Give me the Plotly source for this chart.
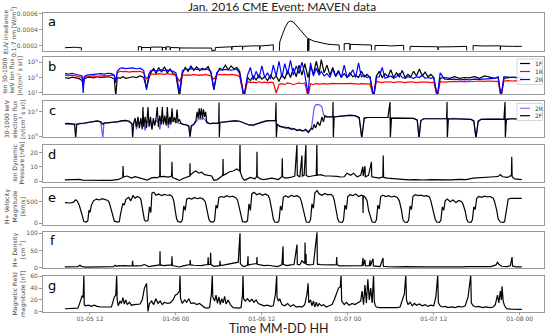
import numpy as np
import pandas as pd
import plotly.graph_objects as go
from plotly.subplots import make_subplots

BASE = pd.Timestamp("2016-01-05 00:00")

# ---------------- data (hours since 2016-01-05 00:00) ----------------
# a: EUV irradiance 0.1-7 nm [W/m2]; None = data gap
euv_points = [
    (8.5, 1.78e-4), (9.0, 1.80e-4), (9.4, 1.86e-4), (9.9, 1.84e-4), (10.3, 1.79e-4), (10.8, 1.78e-4), (10.8, 1.42e-4), (10.9, None),
    (18.75, 1.42e-4), (18.75, 1.92e-4), (19.2, 1.90e-4), (19.2, 1.45e-4), (19.25, 1.80e-4), (20.45, 1.80e-4), (20.45, 1.45e-4),
    (20.5, 1.86e-4), (22.1, 1.86e-4), (22.1, 1.45e-4), (22.15, 1.82e-4), (22.6, 1.82e-4), (22.6, 1.50e-4), (22.65, 1.90e-4),
    (23.2, 1.88e-4), (23.2, 1.50e-4), (23.25, 1.80e-4), (24.5, 1.78e-4), (24.5, 1.45e-4), (24.55, 1.75e-4), (27.0, 1.74e-4),
    (29.0, 1.74e-4), (29.0, 1.45e-4), (29.5, 1.45e-4), (29.5, 1.80e-4), (30.5, 1.85e-4), (31.8, 1.90e-4), (31.8, 1.50e-4),
    (31.85, 1.92e-4), (33.3, 1.98e-4), (33.3, 1.50e-4), (33.35, 1.95e-4), (34.5, 2.00e-4), (35.7, 2.02e-4), (35.7, 1.50e-4),
    (35.75, 2.00e-4), (37.0, 2.08e-4), (37.6, 2.15e-4), (37.6, 1.40e-4), (38.0, None),
    (38.45, 1.40e-4), (38.5, 2.50e-4), (38.9, 3.50e-4), (39.3, 4.40e-4), (39.7, 5.00e-4), (40.0, 5.12e-4), (40.4, 5.00e-4),
    (40.9, 4.50e-4), (41.4, 4.00e-4), (42.0, 3.30e-4), (42.4, 2.95e-4), (42.4, 1.40e-4), (42.5, 2.92e-4), (42.55, 1.40e-4),
    (42.6, 2.88e-4), (43.2, 2.62e-4), (43.7, 2.50e-4), (44.5, 2.32e-4), (45.2, 2.22e-4), (46.0, 2.16e-4), (46.8, 2.12e-4),
    (46.8, 1.45e-4), (47.1, None),
    (47.5, 1.45e-4), (47.5, 2.30e-4), (48.3, 2.28e-4), (48.3, 1.50e-4), (48.35, 2.20e-4), (50.0, 2.15e-4), (51.3, 2.12e-4),
    (51.3, 1.45e-4), (51.5, None),
    (51.8, 1.45e-4), (51.8, 2.06e-4), (53.5, 2.05e-4), (54.0, 2.00e-4), (55.8, 2.08e-4), (55.8, 1.45e-4), (56.2, None),
    (56.7, 1.45e-4), (56.7, 1.95e-4), (58.5, 1.92e-4), (60.6, 1.90e-4), (60.6, 1.50e-4), (60.65, 1.88e-4), (62.5, 1.90e-4),
    (64.6, 1.95e-4), (64.6, 1.45e-4), (65.0, None),
    (65.5, 1.45e-4), (65.5, 2.05e-4), (67.0, 2.00e-4), (69.3, 2.02e-4), (69.3, 1.50e-4), (69.35, 1.98e-4), (71.0, 1.95e-4),
    (72.3, 1.95e-4),
]

# b: ion flux, log10 values: (hour, 1F, 1R, 2R)
ion_flux_log10 = [
    (8.5, 3.0, 3.3, 3.5), (9.0, 2.9, 3.25, 3.45), (9.5, 3.05, 3.3, 3.55), (10.0, 2.95, 3.2, 3.4), (10.5, 2.85, 3.15, 3.35),
    (10.9, 2.6, 3.0, 3.2), (11.05, 2.0, 2.6, 1.0), (11.2, 2.8, 3.0, 3.1), (11.6, 3.0, 3.1, 3.3), (12.0, 3.05, 3.15, 3.35),
    (12.5, 2.95, 3.2, 3.4), (13.0, 3.1, 3.15, 3.45), (13.5, 3.0, 3.2, 3.5), (14.0, 3.05, 3.25, 3.45), (14.5, 3.1, 3.2, 3.55),
    (15.0, 3.0, 3.3, 3.5), (15.4, 2.8, 3.2, 3.3), (15.6, 0.5, 2.6, 2.3), (15.8, 3.0, 3.6, 3.8), (16.2, 2.9, 3.8, 4.2),
    (16.6, 3.1, 3.75, 4.25), (17.0, 2.9, 3.8, 4.15), (17.5, 3.0, 3.7, 4.2), (18.0, 3.1, 3.8, 4.25), (18.5, 3.0, 3.75, 4.1),
    (19.0, 3.2, 3.8, 4.2), (19.5, 3.0, 3.6, 3.9), (19.9, 1.6, 2.8, 1.4), (20.2, 2.8, 3.2, 3.4), (20.5, 3.6, 3.4, 3.9),
    (20.9, 4.2, 3.45, 3.95), (21.2, 3.5, 3.4, 3.85), (21.6, 4.3, 3.5, 3.9), (22.0, 3.7, 3.45, 4.0), (22.4, 4.4, 3.4, 3.9),
    (22.8, 3.6, 3.5, 3.95), (23.2, 4.1, 3.45, 3.9), (23.6, 3.5, 3.4, 3.8), (24.0, 3.3, 3.3, 3.6), (24.5, 0.5, 2.5, 1.1),
    (24.9, 3.5, 3.3, 3.9), (25.3, 4.3, 3.3, 4.1), (25.7, 3.8, 3.35, 4.05), (26.1, 4.5, 3.3, 4.15), (26.5, 3.9, 3.4, 4.1),
    (26.9, 4.4, 3.3, 4.05), (27.3, 3.9, 3.35, 4.1), (27.7, 4.2, 3.3, 4.0), (28.1, 4.0, 3.4, 4.1), (28.5, 4.4, 3.3, 4.05),
    (28.9, 3.6, 3.2, 3.7), (29.3, 1.4, 2.8, 1.5), (29.7, 3.4, 3.3, 3.6), (30.1, 4.2, 3.4, 4.0), (30.5, 4.0, 3.35, 3.95),
    (30.9, 4.6, 3.4, 4.05), (31.3, 4.0, 3.35, 4.0), (31.7, 4.5, 3.4, 3.95), (32.1, 4.1, 3.35, 4.0), (32.5, 4.3, 3.3, 4.1),
    (32.9, 3.8, 3.1, 3.5), (33.5, 0.5, 0.5, 0.5), (34.0, 3.0, 2.5, 3.3), (34.4, 2.6, 2.35, 4.3), (34.8, 3.2, 2.4, 2.7),
    (35.2, 2.7, 2.3, 3.8), (35.6, 3.3, 2.45, 2.9), (36.0, 2.8, 2.35, 4.5), (36.4, 3.1, 2.4, 3.0), (36.8, 2.6, 2.3, 3.6),
    (37.2, 3.3, 2.4, 2.8), (37.6, 2.8, 2.35, 4.6), (38.0, 3.2, 1.0, 3.2), (38.4, 2.5, 2.1, 5.1), (38.8, 3.4, 2.2, 3.0),
    (39.2, 2.8, 2.1, 4.8), (39.6, 3.9, 2.3, 3.4), (40.0, 3.0, 2.2, 5.2), (40.4, 4.2, 2.1, 3.3), (40.8, 3.1, 2.2, 4.5),
    (41.2, 4.6, 2.3, 3.5), (41.6, 3.3, 2.2, 5.0), (42.0, 4.8, 2.3, 3.4), (42.45, 3.0, 0.5, 0.8), (42.8, 4.5, 2.2, 4.9),
    (43.2, 3.4, 2.1, 3.2), (43.6, 5.1, 2.2, 4.2), (44.0, 3.5, 2.15, 3.3), (44.3, 5.3, 2.2, 3.8), (44.7, 3.6, 2.2, 3.2),
    (45.1, 4.6, 2.15, 3.5), (45.5, 3.3, 2.2, 3.0), (45.9, 4.3, 2.25, 4.1), (46.3, 3.2, 2.2, 3.1), (46.7, 3.9, 2.2, 3.7),
    (47.1, 3.0, 2.15, 3.0), (47.5, 3.5, 2.2, 4.6), (47.9, 3.0, 2.2, 3.0), (48.3, 3.6, 2.25, 3.3), (48.7, 3.1, 2.2, 4.0),
    (49.1, 3.3, 2.2, 3.0), (49.5, 3.0, 2.15, 4.9), (49.9, 3.8, 2.2, 3.1), (50.3, 3.1, 2.2, 3.3), (50.7, 3.4, 2.2, 3.0),
    (51.1, 3.0, 2.15, 3.1), (51.6, 0.5, 0.5, 0.5), (52.0, 3.2, 2.5, 3.0), (52.4, 3.8, 2.4, 3.1), (52.8, 3.0, 2.35, 4.3),
    (53.2, 3.5, 2.45, 2.9), (53.6, 3.1, 2.4, 3.0), (54.0, 4.0, 2.45, 3.2), (54.4, 3.0, 2.35, 2.9), (54.8, 3.6, 2.4, 3.1),
    (55.2, 3.1, 2.45, 3.5), (55.6, 3.9, 2.4, 3.0), (56.0, 3.0, 2.35, 2.9), (56.4, 3.4, 2.4, 3.1), (56.8, 3.1, 2.45, 3.0),
    (57.2, 3.8, 2.4, 2.9), (57.6, 3.2, 2.35, 3.1), (58.0, 4.1, 2.4, 3.0), (58.4, 3.2, 2.4, 3.3), (58.8, 3.7, 2.45, 2.9),
    (59.2, 3.1, 2.4, 3.0), (59.6, 3.4, 2.35, 2.9), (60.0, 3.0, 2.4, 3.0), (60.5, 0.5, 0.5, 0.5), (60.9, 2.9, 2.45, 3.6),
    (61.5, 3.0, 2.4, 2.8), (62.2, 2.9, 2.45, 2.75), (62.9, 3.1, 2.5, 2.8), (63.6, 2.9, 2.45, 2.7), (64.3, 3.0, 2.5, 2.75),
    (65.0, 2.95, 2.45, 2.7), (65.7, 3.1, 2.5, 2.8), (66.4, 2.9, 2.55, 2.75), (67.1, 3.2, 2.5, 2.8), (67.8, 3.0, 2.55, 2.85),
    (68.5, 2.9, 2.5, 2.9), (69.0, 3.0, 2.5, 3.1), (69.4, 0.5, 0.5, 0.5), (69.8, 2.9, 2.55, 3.1), (70.4, 2.95, 2.6, 3.05),
    (71.0, 3.05, 2.55, 3.0), (71.7, 2.95, 2.6, 3.05), (72.3, 3.0, 2.55, 3.0),
]

# c: electron flux, log10 values: (hour, 2R, 2F)
electron_flux_log10 = [
    (8.5, 6.05, 6.05), (9.0, 6.0, 6.08), (9.5, 6.05, 6.02), (9.85, 6.0, 6.0), (10.0, 6.0, 4.9), (10.15, 6.0, 6.0),
    (10.6, 6.1, 6.05), (11.2, 6.05, 6.1), (11.8, 6.15, 6.2), (12.4, 6.2, 6.25), (13.0, 6.25, 6.28), (13.5, 6.2, 6.2),
    (13.8, 4.9, 6.0), (13.95, 6.1, 6.1), (14.5, 6.1, 6.12), (15.2, 6.15, 6.15), (15.9, 6.2, 6.22), (16.5, 6.25, 6.3),
    (17.0, 6.3, 6.32), (17.5, 6.2, 6.25), (17.85, 6.05, 6.05), (17.96, 5.9, 4.9), (18.1, 6.1, 6.1), (18.3, 6.2, 6.5),
    (18.5, 5.6, 5.8), (18.7, 6.2, 6.6), (18.9, 6.1, 5.7), (19.1, 6.2, 6.5), (19.3, 6.0, 5.6), (19.4, 6.2, 7.4),
    (19.5, 6.1, 5.8), (19.7, 5.5, 6.6), (19.9, 6.2, 5.7), (20.1, 6.2, 7.4), (20.25, 6.1, 5.8), (20.45, 6.2, 6.6),
    (20.65, 5.6, 5.6), (20.85, 6.2, 6.5), (21.05, 6.1, 5.9), (21.25, 6.3, 6.6), (21.4, 6.2, 7.4), (21.55, 6.2, 5.8),
    (21.75, 5.6, 6.7), (21.95, 6.3, 6.0), (22.1, 6.3, 7.4), (22.25, 6.2, 6.0), (22.45, 6.3, 6.7), (22.65, 6.2, 5.9),
    (22.8, 6.3, 7.4), (22.95, 5.7, 6.0), (23.15, 6.3, 6.6), (23.3, 6.2, 6.0), (23.45, 6.3, 7.3), (23.6, 6.25, 6.2),
    (23.8, 6.2, 6.55), (24.0, 6.2, 6.1), (24.15, 6.2, 7.2), (24.3, 6.1, 6.2), (24.5, 6.1, 6.4), (24.7, 6.05, 6.1),
    (25.0, 6.0, 6.0), (25.4, 6.0, 5.95), (25.8, 5.9, 5.85), (25.97, 5.0, 5.0), (26.15, 5.8, 5.9), (26.5, 6.0, 6.0),
    (26.8, 6.2, 6.3), (26.95, 6.3, 7.0), (27.1, 6.4, 6.5), (27.25, 6.5, 7.3), (27.4, 6.4, 6.5), (27.55, 6.5, 7.3),
    (27.7, 6.4, 6.5), (27.85, 6.5, 7.2), (28.0, 6.4, 6.6), (28.15, 6.3, 7.0), (28.3, 6.1, 6.2), (28.7, 6.05, 6.05),
    (29.2, 6.1, 6.1), (29.7, 6.05, 6.1), (29.98, 6.1, 6.1), (30.02, 6.1, 7.75), (30.06, 6.1, 4.9), (30.15, 6.15, 6.15),
    (30.8, 6.2, 6.2), (31.5, 6.25, 6.25), (32.2, 6.3, 6.28), (32.9, 6.25, 6.25), (33.6, 6.1, 6.1), (34.2, 5.95, 5.95),
    (34.8, 5.9, 5.95), (35.3, 6.05, 6.05), (36.0, 6.2, 6.2), (36.7, 6.3, 6.28), (37.4, 6.3, 6.3), (37.9, 6.3, 6.3),
    (37.98, 6.3, 7.75), (38.02, 6.0, 4.9), (38.15, 6.0, 6.0), (38.5, 5.8, 5.85), (38.9, 5.75, 5.8), (39.3, 5.8, 5.7),
    (39.7, 5.65, 5.75), (40.1, 5.7, 5.6), (40.5, 5.6, 5.65), (40.9, 5.55, 5.5), (41.3, 5.6, 5.55), (41.7, 5.5, 5.45),
    (42.1, 5.5, 5.6), (42.5, 5.45, 5.35), (42.9, 5.6, 5.7), (43.1, 6.3, 5.6), (43.3, 7.3, 6.0), (43.5, 7.55, 5.7),
    (43.8, 7.6, 6.2), (44.1, 7.55, 5.9), (44.4, 7.4, 6.6), (44.6, 6.8, 6.2), (44.8, 6.6, 6.7), (45.1, 6.6, 6.6),
    (45.5, 6.6, 6.6), (45.9, 6.6, 6.6), (45.94, 6.6, 7.8), (45.98, 6.6, 4.9), (46.1, 6.6, 6.6), (46.8, 6.65, 6.65),
    (47.6, 6.7, 6.7), (48.3, 6.75, 6.72), (49.0, 6.7, 6.7), (49.6, 6.5, 6.55), (49.95, 4.9, 4.9), (50.3, 6.5, 6.5),
    (50.8, 6.55, 6.55), (51.5, 6.56, 6.56), (52.2, 6.55, 6.55), (52.9, 6.55, 6.55), (53.6, 6.55, 6.55), (53.9, 6.55, 7.8),
    (53.94, 6.4, 4.9), (54.1, 6.5, 6.5), (54.8, 6.5, 6.5), (55.6, 6.5, 6.52), (56.4, 6.5, 6.5), (57.2, 6.48, 6.48),
    (57.7, 6.3, 6.35), (57.95, 4.9, 4.9), (58.2, 6.3, 6.3), (58.6, 6.45, 6.45), (59.4, 6.45, 6.45), (60.2, 6.45, 6.45),
    (61.0, 6.45, 6.45), (61.8, 6.45, 6.45), (61.86, 6.45, 7.8), (61.9, 6.3, 4.9), (62.05, 6.45, 6.45), (62.8, 6.48, 6.45),
    (63.6, 6.45, 6.45), (64.4, 6.45, 6.45), (65.2, 6.4, 6.4), (65.6, 6.2, 6.3), (65.9, 4.9, 4.9), (66.2, 6.3, 6.2),
    (66.6, 6.4, 6.4), (67.4, 6.4, 6.42), (68.2, 6.42, 6.42), (69.0, 6.45, 6.42), (69.8, 6.4, 6.4), (69.96, 6.4, 7.8),
    (70.0, 6.3, 4.9), (70.15, 6.4, 6.4), (70.8, 6.45, 6.45), (71.6, 6.4, 6.45),
]

# d: ion dynamic pressure [nPa]
pressure_points = [
    (8.5, 0.8), (9.5, 1.0), (10.5, 1.1), (11.0, 0.6), (12.0, 0.4), (13.0, 0.3), (14.0, 0.4), (15.0, 0.5), (16.0, 1.2),
    (16.58, 2.5), (16.62, 10.5), (16.68, 2.8), (17.2, 3.5), (17.8, 2.0), (18.3, 3.0), (19.0, 2.2), (19.6, 1.5), (20.0, 0.6),
    (20.5, 2.0), (21.0, 2.6), (21.5, 2.3), (21.74, 3.5), (21.78, 25.5), (21.82, 3.0), (22.3, 3.2), (22.9, 2.8), (23.4, 3.5),
    (23.45, 13.5), (23.5, 2.5), (24.0, 1.5), (24.5, 0.4), (25.0, 1.8), (25.5, 3.0), (25.94, 3.5), (25.97, 12.5), (26.0, 4.0),
    (26.4, 6.0), (26.8, 7.0), (27.2, 5.5), (27.6, 6.2), (28.0, 4.5), (28.5, 4.0), (29.0, 3.5), (29.3, 0.5), (29.8, 1.0),
    (30.3, 3.0), (30.55, 4.0), (30.58, 15.5), (30.62, 4.0), (31.0, 5.0), (31.5, 6.5), (32.0, 7.0), (32.5, 8.5), (32.9, 7.0),
    (32.95, 25.5), (33.0, 6.0), (33.3, 2.0), (33.6, 0.5), (34.0, 1.5), (34.4, 2.5), (35.0, 1.5), (35.28, 3.0), (35.32, 20.5),
    (35.36, 3.0), (35.8, 1.5), (36.3, 1.0), (36.8, 1.5), (37.4, 2.0), (37.9, 1.5), (38.3, 1.0), (38.8, 3.0), (38.85, 16.0),
    (38.9, 3.0), (39.3, 2.0), (40.0, 2.5), (40.6, 3.5), (40.9, 25.5), (40.95, 4.0), (41.3, 3.0), (41.6, 18.0), (41.65, 3.5),
    (41.9, 4.0), (42.15, 25.5), (42.2, 4.0), (42.5, 3.0), (43.0, 3.5), (43.6, 4.0), (43.68, 25.5), (43.73, 4.0), (44.2, 4.5),
    (44.8, 3.5), (45.5, 3.5), (46.0, 3.5), (46.5, 3.2), (47.0, 2.8), (47.5, 3.0), (47.9, 5.5), (48.4, 4.0), (48.8, 5.5),
    (49.3, 3.0), (49.8, 4.0), (50.1, 10.0), (50.15, 3.5), (50.4, 10.5), (50.45, 3.0), (50.9, 4.0), (51.3, 13.5), (51.35, 3.0),
    (51.8, 2.5), (52.4, 2.0), (52.9, 3.0), (52.95, 18.0), (53.0, 2.5), (53.5, 2.0), (54.5, 1.5), (55.5, 1.0), (56.5, 0.8),
    (57.5, 1.0), (58.5, 0.7), (59.5, 1.0), (60.5, 0.8), (61.5, 1.0), (62.5, 0.8), (63.5, 1.2), (64.5, 1.0), (65.5, 2.0),
    (66.5, 2.5), (67.5, 2.8), (68.5, 3.0), (69.0, 3.2), (69.3, 4.5), (69.6, 3.0), (70.3, 2.5), (70.85, 4.0), (70.9, 17.0),
    (70.95, 3.0), (71.3, 1.5), (72.3, 1.0),
]

# e: H+ velocity magnitude [km/s]
velocity_points = [
    (8.5, 480), (8.9, 475), (9.3, 470), (9.7, 490), (10.0, 545), (10.2, 520),
    (10.5, 420), (10.8, 250), (11.0, 90), (11.15, 40), (11.5, 30), (11.7, 60), (11.85, 300), (12.0, 250), (12.2, 420),
    (12.5, 520), (12.9, 560), (13.3, 540), (13.7, 570), (14.1, 550), (14.5, 530),
    (14.7, 480), (15.0, 300), (15.2, 120), (15.4, 50), (15.9, 30), (16.1, 40), (16.25, 200), (16.4, 350), (16.6, 460), (16.8, 420),
    (17.0, 550), (17.4, 600), (17.7, 520), (18.0, 640), (18.3, 580), (18.6, 620), (18.9, 600),
    (19.1, 560), (19.4, 300), (19.6, 80), (19.8, 50), (20.1, 60), (20.3, 380), (20.5, 250), (20.65, 700),
    (20.9, 720), (21.2, 650), (21.6, 680), (22.0, 640), (22.4, 670), (22.8, 650), (23.2, 660), (23.5, 620),
    (23.7, 520), (23.9, 300), (24.1, 100), (24.3, 40), (24.7, 30), (24.9, 80), (25.1, 400), (25.3, 300), (25.5, 560),
    (25.8, 580), (26.2, 560), (26.6, 600), (27.0, 570), (27.4, 590), (27.8, 560),
    (28.1, 500), (28.4, 280), (28.6, 100), (28.8, 40), (29.2, 30), (29.4, 70), (29.6, 420), (29.8, 350), (30.0, 600),
    (30.3, 620), (30.7, 600), (31.1, 640), (31.5, 610), (31.9, 630), (32.3, 600),
    (32.6, 540), (32.9, 300), (33.1, 120), (33.3, 40), (33.8, 30), (34.0, 60), (34.2, 450), (34.4, 300), (34.6, 680),
    (34.9, 720), (35.3, 660), (35.7, 690), (36.1, 650), (36.5, 680), (36.9, 640),
    (37.1, 560), (37.4, 300), (37.6, 100), (37.8, 30), (38.2, 20), (38.4, 60), (38.6, 400), (38.8, 300), (39.0, 600),
    (39.3, 640), (39.7, 600), (40.1, 650), (40.5, 620), (40.9, 640), (41.3, 600),
    (41.5, 520), (41.8, 300), (42.0, 100), (42.2, 30), (42.6, 20), (42.8, 80), (43.0, 450), (43.2, 350), (43.4, 700),
    (43.7, 760), (44.0, 680), (44.4, 650), (44.8, 690), (45.2, 660), (45.6, 670), (45.9, 640),
    (46.1, 540), (46.4, 300), (46.6, 100), (46.8, 30), (47.2, 20), (47.4, 70), (47.6, 420), (47.8, 320), (48.0, 620),
    (48.3, 660), (48.7, 640), (49.1, 680), (49.5, 620), (49.9, 650), (50.1, 640), (50.13, 240), (50.16, 640), (50.4, 610),
    (50.7, 520), (50.9, 300), (51.2, 100), (51.4, 30), (51.8, 20), (52.0, 80), (52.2, 420), (52.4, 330), (52.6, 620),
    (52.9, 650), (53.3, 620), (53.7, 640), (54.1, 610), (54.5, 630), (54.9, 600),
    (55.2, 520), (55.5, 300), (55.7, 90), (55.9, 30), (56.3, 20), (56.5, 70), (56.7, 400), (56.9, 320), (57.1, 620),
    (57.4, 660), (57.8, 640), (58.2, 650), (58.6, 630), (59.0, 640), (59.4, 610),
    (59.6, 520), (59.9, 300), (60.2, 100), (60.4, 30), (60.8, 20), (61.0, 70), (61.2, 380), (61.4, 300), (61.6, 520),
    (61.9, 560), (62.3, 500), (62.7, 540), (63.1, 480), (63.5, 530), (63.9, 500),
    (64.1, 440), (64.4, 280), (64.6, 100), (64.8, 30), (65.2, 20), (65.4, 80), (65.6, 380), (65.8, 320), (66.0, 580),
    (66.3, 620), (66.7, 600), (67.1, 630), (67.5, 610), (67.9, 620), (68.3, 580),
    (68.5, 500), (68.8, 300), (69.0, 100), (69.3, 30), (69.7, 20), (69.9, 40), (70.2, 300), (70.4, 560), (70.8, 580),
    (71.4, 580), (72.0, 575), (72.3, 575),
]

# f: H+ density [cm^-3]
density_points = [
    (8.5, 2), (9.5, 2.5), (10.3, 3), (10.6, 7), (10.9, 3), (11.5, 1.5), (12.5, 2), (13.5, 1.8), (14.5, 2.2), (15.3, 3),
    (15.5, 7), (15.7, 4), (16.0, 6), (16.3, 5), (16.8, 6), (17.3, 5), (17.9, 6), (17.95, 20), (18.0, 6), (18.5, 5),
    (19.2, 6), (19.6, 9), (19.9, 7), (20.2, 3), (20.8, 5), (21.3, 6), (21.75, 8), (21.78, 48), (21.82, 8), (22.3, 6),
    (22.9, 7), (23.4, 8), (23.45, 33), (23.5, 6), (24.0, 4), (24.5, 2), (25.0, 5), (25.5, 8), (25.95, 9), (26.0, 22),
    (26.05, 8), (26.5, 7), (27.0, 6), (27.6, 6), (28.0, 8), (28.45, 9), (28.5, 30), (28.55, 9), (28.8, 10), (28.85, 43),
    (28.9, 9), (29.3, 4), (29.8, 4), (30.1, 6), (30.16, 20), (30.2, 6), (30.8, 8), (31.3, 10), (31.8, 12), (32.3, 14),
    (32.7, 16), (32.95, 100), (33.0, 12), (33.3, 5), (33.6, 3), (34.0, 8), (34.07, 33), (34.1, 8), (34.6, 10), (35.28, 12),
    (35.32, 31), (35.36, 10), (35.8, 8), (36.3, 6), (36.8, 7), (37.3, 5), (37.8, 4), (38.2, 3), (38.8, 8), (38.96, 62),
    (39.0, 10), (39.5, 6), (40.0, 8), (40.5, 9), (40.91, 67), (40.95, 10), (41.3, 8), (41.6, 20), (42.0, 12), (42.03, 73),
    (42.08, 12), (42.17, 40), (42.2, 10), (42.6, 8), (43.2, 9), (43.7, 103), (43.75, 10), (44.2, 9), (44.8, 8), (45.4, 9),
    (46.0, 8), (46.4, 9), (46.45, 31), (46.5, 9), (46.8, 5), (47.5, 5), (48.0, 6), (48.5, 5), (49.0, 7), (49.5, 5),
    (50.0, 6), (50.13, 28), (50.16, 6), (50.4, 23), (50.45, 5), (51.0, 6), (51.11, 22), (51.15, 5), (51.53, 26), (51.57, 5),
    (52.0, 4), (52.5, 3), (52.92, 28), (52.96, 4), (53.4, 3), (54.0, 2.5), (55.0, 2), (56.0, 3), (57.0, 2), (58.0, 2.5),
    (59.0, 2), (60.0, 2.5), (61.0, 2), (62.0, 3), (63.0, 2), (64.0, 2.5), (65.0, 3), (66.0, 3), (67.0, 3.5), (68.0, 3),
    (68.7, 8), (68.9, 16), (69.1, 10), (69.5, 4), (70.3, 3), (70.7, 6), (70.94, 31), (71.0, 5), (71.5, 2), (72.3, 2),
]

# g: magnetic field magnitude [nT]
bfield_points = [
    (8.5, 5), (9.0, 5.5), (9.5, 5), (10.0, 5.5), (10.3, 6), (10.5, 12), (10.7, 20), (10.9, 27), (11.05, 24), (11.15, 62),
    (11.2, 12), (11.4, 10), (11.8, 11), (12.2, 9), (12.6, 11), (13.0, 9), (13.5, 8), (14.0, 8.5), (14.5, 8), (15.0, 8),
    (15.2, 15), (15.4, 25), (15.6, 28), (15.73, 62), (15.8, 20), (15.95, 10), (16.2, 18), (16.4, 14), (16.6, 24), (16.8, 13),
    (17.0, 20), (17.2, 12), (17.5, 16), (17.8, 11), (18.2, 12), (18.6, 12), (19.0, 13), (19.3, 20), (19.6, 40), (19.9, 48),
    (19.98, 20), (20.1, 0.5), (20.3, 14), (20.6, 18), (20.9, 12), (21.2, 22), (21.5, 14), (21.8, 18), (22.1, 12), (22.4, 16),
    (22.8, 14), (23.2, 15), (23.6, 20), (23.9, 28), (24.2, 30), (24.5, 35), (24.57, 62), (24.65, 22), (24.9, 14), (25.2, 20),
    (25.5, 16), (25.8, 22), (26.1, 14), (26.5, 15), (26.9, 12), (27.3, 14), (27.7, 10), (28.0, 7), (28.4, 6), (28.7, 7),
    (28.95, 30), (29.08, 62), (29.15, 25), (29.4, 18), (29.6, 28), (29.8, 14), (30.0, 25), (30.2, 12), (30.4, 22), (30.6, 15),
    (30.8, 26), (31.0, 13), (31.3, 20), (31.6, 12), (32.0, 7), (32.4, 6), (32.8, 6), (33.1, 7), (33.3, 30), (33.37, 62),
    (33.45, 22), (33.7, 18), (34.0, 22), (34.3, 17), (34.6, 21), (34.9, 16), (35.2, 20), (35.5, 14), (35.9, 12), (36.3, 10),
    (36.8, 11), (37.2, 9), (37.6, 10), (37.9, 30), (38.07, 62), (38.12, 25), (38.3, 18), (38.5, 22), (38.8, 12), (39.2, 10),
    (39.6, 14), (40.0, 9), (40.4, 12), (40.8, 8), (41.2, 9), (41.6, 8), (42.0, 12), (42.3, 30), (42.46, 48), (42.55, 15),
    (42.8, 20), (43.0, 10), (43.2, 18), (43.4, 8), (43.6, 16), (43.8, 9), (44.0, 14), (44.3, 10), (44.6, 12), (45.0, 8),
    (45.4, 10), (45.8, 12), (46.1, 20), (46.4, 30), (46.7, 40), (46.95, 42), (47.06, 62), (47.15, 18), (47.5, 12), (47.8, 16),
    (48.2, 11), (48.6, 14), (49.0, 12), (49.4, 15), (49.8, 18), (50.0, 35), (50.2, 12), (50.4, 45), (50.6, 15), (50.8, 55),
    (51.0, 20), (51.2, 40), (51.4, 15), (51.6, 62), (51.7, 18), (51.85, 10), (52.0, 8), (52.4, 7), (52.9, 7), (53.4, 6),
    (53.9, 7), (54.4, 6), (54.9, 7), (55.3, 8), (55.6, 20), (55.9, 30), (56.1, 62), (56.2, 20), (56.4, 12), (56.7, 16),
    (57.0, 10), (57.3, 14), (57.6, 11), (58.0, 13), (58.4, 10), (58.8, 12), (59.2, 9), (59.6, 11), (60.0, 10), (60.3, 25),
    (60.56, 62), (60.65, 15), (60.9, 10), (61.2, 8), (61.6, 9), (62.0, 7), (62.5, 8), (63.0, 7), (63.5, 9), (64.0, 8),
    (64.4, 10), (64.8, 25), (65.17, 62), (65.25, 15), (65.5, 10), (65.9, 8), (66.3, 9), (66.8, 7), (67.3, 8), (67.8, 7),
    (68.3, 8), (68.6, 12), (68.9, 28), (69.1, 15), (69.3, 35), (69.45, 20), (69.54, 43), (69.7, 18), (69.9, 10), (70.2, 5),
    (70.8, 4.5), (71.5, 4), (72.3, 4),
]

x_tick_hours = [12, 24, 36, 48, 60, 72]
x_range_hours = [5.44, 75.4]

panel_letters = ["a", "b", "c", "d", "e", "f", "g"]
panel_titles = [
    "EUV irradiance<br>0.1-7 nm [W/m<sup>2</sup>]",
    "Ion 30-1000<br>keV Ion flux<br>[n/(cm<sup>2</sup> s sr)]",
    "30-1000 keV<br>electron flux<br>[n/(cm<sup>2</sup> s sr)]",
    "Ion Dynamic<br>Pressure [nPa]",
    "H+ Velocity<br>Magnitude<br>[km/s]",
    "H+ Density<br>[cm<sup>-3</sup>]",
    "Magnetic Field<br>magnitude [nT]",
]
legend_b_labels = ["1F", "1R", "2R"]
legend_c_labels = ["2R", "2F"]


# ---------------- helpers ----------------
def t(h):
    return BASE + pd.Timedelta(hours=h)


def split(points):
    return [t(p[0]) for p in points], [p[1] for p in points]


W, H = 550, 336
L, R, T, B = 43, 544, 13, 312


def xp(px):
    return (px - L) / (R - L)


def yp(py):
    return (B - py) / (B - T)


panel_px = [(13, 51), (57, 94), (101, 137), (145, 182), (188, 225), (232, 268), (276, 312)]

fig = make_subplots(rows=7, cols=1, shared_xaxes=True, vertical_spacing=0.01)

black = dict(color="black", width=1.2)
BLUE_C = "rgba(0,0,255,0.65)"

tx, vy = split(euv_points)
fig.add_trace(go.Scatter(x=tx, y=vy, mode="lines", line=dict(color="black", width=1.0), connectgaps=False),
              row=1, col=1)

b_t = [t(r[0]) for r in ion_flux_log10]
for idx, color in [(1, "black"), (2, "#ff0000"), (3, "#0000ff")]:
    vals = np.power(10.0, np.array([r[idx] for r in ion_flux_log10]))
    fig.add_trace(go.Scatter(x=b_t, y=vals, mode="lines", line=dict(color=color, width=1.2)), row=2, col=1)

c_t = [t(r[0]) for r in electron_flux_log10]
for idx, color in [(1, BLUE_C), (2, "black")]:
    vals = np.power(10.0, np.array([r[idx] for r in electron_flux_log10]))
    fig.add_trace(go.Scatter(x=c_t, y=vals, mode="lines", line=dict(color=color, width=1.2)), row=3, col=1)

for row, pts in [(4, pressure_points), (5, velocity_points), (6, density_points), (7, bfield_points)]:
    tx, vy = split(pts)
    fig.add_trace(go.Scatter(x=tx, y=vy, mode="lines", line=black), row=row, col=1)

fig.update_traces(showlegend=False, hoverinfo="skip")

axis_common = dict(showline=True, mirror=True, linecolor="#9a9a9a", linewidth=1, showgrid=False, zeroline=False)
tickfont = dict(size=6, color="#555", family="DejaVu Sans")

y_specs = [
    dict(range=[0.000137, 0.000612], tickvals=[0.0002, 0.0004, 0.0006], ticktext=["0.0002", "0.0004", "0.0006"]),
    dict(type="log", range=[0.87, 5.65], tickvals=[10, 1000, 100000],
         ticktext=["10<sup>1</sup>", "10<sup>3</sup>", "10<sup>5</sup>"]),
    dict(type="log", range=[4.98, 7.88], tickvals=[1e5, 1e7], ticktext=["10<sup>5</sup>", "10<sup>7</sup>"]),
    dict(range=[-0.7, 25.3], tickvals=[0, 10, 20]),
    dict(range=[-39, 817], tickvals=[0, 500]),
    dict(range=[-1, 103.7], tickvals=[0, 50, 100]),
    dict(range=[-0.5, 60.5], tickvals=[0, 20, 40, 60]),
]

layout = {}
for i in range(7):
    top, bot = panel_px[i]
    yk = "yaxis" if i == 0 else f"yaxis{i + 1}"
    xk = "xaxis" if i == 0 else f"xaxis{i + 1}"
    layout[yk] = dict(domain=[yp(bot), yp(top)], ticks="outside", ticklen=3, tickcolor="#999",
                      tickfont=tickfont, **axis_common, **y_specs[i])
    layout[xk] = dict(range=[t(x_range_hours[0]), t(x_range_hours[1])], **axis_common,
                      tickvals=[t(h) for h in x_tick_hours], tickformat="%m-%d %H",
                      showticklabels=(i == 6), ticks="outside" if i == 6 else "",
                      ticklen=2, tickcolor="#999", tickfont=tickfont)
layout["xaxis7"]["ticklabelstandoff"] = -1
fig.update_layout(**layout)

annotations = []
title_cx = [10, 12, 14, 18, 14.5, 18, 19]
for i in range(7):
    top, bot = panel_px[i]
    annotations.append(dict(text=panel_letters[i], x=xp(52), y=yp(top + 9), xref="paper", yref="paper",
                            showarrow=False, xanchor="center", yanchor="middle",
                            font=dict(size=13, color="black", family="DejaVu Sans")))
    annotations.append(dict(text=panel_titles[i], x=xp(title_cx[i]), y=yp((top + bot) / 2), xref="paper",
                            yref="paper", showarrow=False, textangle=-90, xanchor="center", yanchor="middle",
                            font=dict(size=6, color="#444", family="DejaVu Sans")))

annotations.append(dict(text="Time MM-DD HH", x=xp(278.5), y=yp(328.5), xref="paper", yref="paper",
                        showarrow=False, xanchor="center", yanchor="middle",
                        font=dict(size=12.5, color="#222", family="Lato")))

# manual legends (box, line samples, labels)
shapes = []
legend_specs = [
    ((59, 84.5), [(63.5, "black"), (71.5, "#ff0000"), (79.5, "#0000ff")], legend_b_labels),
    ((103.5, 120.5), [(108.3, "rgba(0,0,255,0.55)"), (115.7, "black")], legend_c_labels),
]
for (y0, y1), items, labels in legend_specs:
    shapes.append(dict(type="rect", xref="paper", yref="paper", x0=xp(517), x1=xp(542.5), y0=yp(y1), y1=yp(y0),
                       line=dict(color="#cccccc", width=0.8), fillcolor="rgba(255,255,255,0.85)", layer="above"))
    for (yy, col), lab in zip(items, labels):
        shapes.append(dict(type="line", xref="paper", yref="paper", x0=xp(520), x1=xp(530), y0=yp(yy), y1=yp(yy),
                           line=dict(color=col, width=1.2), layer="above"))
        annotations.append(dict(text=lab, x=xp(532.5), y=yp(yy), xref="paper", yref="paper", showarrow=False,
                                xanchor="left", yanchor="middle",
                                font=dict(size=6, color="#333333", family="DejaVu Sans")))

fig.update_layout(
    width=W, height=H,
    margin=dict(l=L, r=W - R, t=T, b=H - B),
    paper_bgcolor="white", plot_bgcolor="white",
    title=dict(text="Jan. 2016 CME Event: MAVEN data", x=282 / W, y=1 - 6.5 / H, xanchor="center",
               yanchor="middle", font=dict(size=12, color="#222", family="Lato")),
    annotations=annotations, shapes=shapes,
    showlegend=False, hovermode=False,
)

fig.write_html("out.html", config={"displayModeBar": False, "staticPlot": True},
               post_script="document.body.style.margin='0px';")
